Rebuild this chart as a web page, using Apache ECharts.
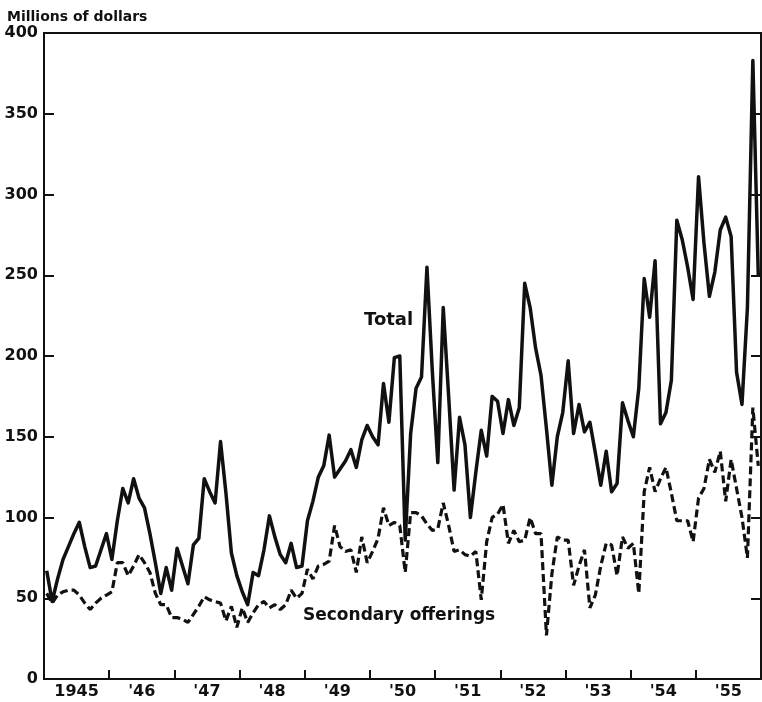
<!DOCTYPE html>
<html>
<head>
<meta charset="utf-8">
<script src="https://cdn.jsdelivr.net/npm/echarts@6/dist/echarts.min.js"></script>
<style>
  html, body { margin: 0; padding: 0; background: #fff; }
  #chart { width: 762px; height: 702px; }
</style>
</head>
<body>
<div id="chart"></div>
<script>
// year labels, centred under each year
var yearLabels = ['1945', "'46", "'47", "'48", "'49", "'50", "'51", "'52", "'53", "'54", "'55"];

// y tick values
var yTicks = [0, 50, 100, 150, 200, 250, 300, 350, 400];

// monthly values, Jan 1945 .. Dec 1955, millions of dollars
var totalValues = [
  67, 48, 62, 74, 82, 90, 97, 82, 69, 70, 80, 90,
  74, 98, 118, 109, 124, 112, 106, 90, 72, 53, 69, 55,
  81, 70, 59, 83, 87, 124, 116, 109, 147, 115, 78, 64,
  54, 46, 66, 64, 80, 101, 88, 77, 72, 84, 69, 70,
  98, 110, 125, 132, 151, 125, 130, 135, 142, 131, 148, 157,
  150, 145, 183, 159, 199, 200, 86, 152, 180, 187, 255, 190,
  134, 230, 175, 117, 162, 145, 100, 128, 154, 138, 175, 172,
  152, 173, 157, 168, 245, 230, 205, 188, 155, 120, 150, 165,
  197, 152, 170, 153, 159, 140, 120, 141, 116, 121, 171, 160,
  150, 180, 248, 224, 259, 158, 165, 185, 284, 272, 255, 235,
  311, 270, 237, 252, 278, 286, 274, 190, 170, 230, 383, 250
];

var secondaryValues = [
  53, 47, 52, 54, 55, 55, 52, 47, 43, 47, 50, 52,
  54, 72, 72, 64, 70, 77, 72, 66, 53, 46, 46, 38,
  38, 37, 35, 40, 45, 51, 49, 48, 47, 36, 45, 32,
  44, 35, 41, 46, 48, 44, 46, 43, 46, 55, 50, 53,
  68, 62, 70, 71, 73, 95, 82, 79, 80, 66, 88, 72,
  79, 87, 106, 95, 97, 95, 66, 103, 103, 101, 96, 92,
  93, 109, 95, 79, 80, 77, 76, 79, 49, 85, 100, 102,
  108, 84, 92, 85, 86, 100, 90, 90, 27, 65, 88, 86,
  86, 58, 70, 80, 44, 52, 70, 84, 83, 64, 88, 81,
  84, 53, 116, 131, 116, 124, 131, 115, 98, 98, 98, 85,
  112, 118, 136, 128, 141, 110, 136, 118, 100, 75, 168, 132
];

// month i sits in the middle of its month slot
function toPoints(values) {
  return values.map(function (v, i) { return [i + 0.5, v]; });
}

var font = 'DejaVu Sans';
var ink = '#111';

var chart = echarts.init(document.getElementById('chart'));
var option = {
  backgroundColor: '#fff',
  animation: false,
  title: {
    text: 'Millions of dollars',
    left: 2,
    top: 5,
    textStyle: { fontFamily: font, fontSize: 14, fontWeight: 'bold', color: ink }
  },
  grid: {
    left: 44, right: 1, top: 33, bottom: 23,
    show: true, borderColor: ink, borderWidth: 2, backgroundColor: '#fff'
  },
  xAxis: [
    {
      type: 'value', min: 0, max: yearLabels.length * 12, interval: 12,
      axisLine: { show: true, lineStyle: { color: ink, width: 2 } },
      axisTick: { show: true, inside: true, length: 9, lineStyle: { color: ink, width: 2 } },
      axisLabel: { show: false },
      splitLine: { show: false }
    },
    {
      type: 'category', data: yearLabels, position: 'bottom', boundaryGap: true,
      axisLine: { show: false }, axisTick: { show: false },
      axisLabel: { fontFamily: font, fontSize: 16, fontWeight: 'bold', color: ink, margin: 5 },
      splitLine: { show: false }
    }
  ],
  yAxis: [
    {
      type: 'value', min: yTicks[0], max: yTicks[yTicks.length - 1], interval: 50,
      axisLine: { show: true, lineStyle: { color: ink, width: 2 } },
      axisTick: { show: true, inside: true, length: 10, lineStyle: { color: ink, width: 2 } },
      axisLabel: { fontFamily: font, fontSize: 16, fontWeight: 'bold', color: ink, margin: 6 },
      splitLine: { show: false }
    },
    {
      type: 'value', position: 'right', min: yTicks[0], max: yTicks[yTicks.length - 1], interval: 50,
      axisLine: { show: true, lineStyle: { color: ink, width: 2 } },
      axisTick: { show: true, inside: true, length: 10, lineStyle: { color: ink, width: 2 } },
      axisLabel: { show: false },
      splitLine: { show: false }
    }
  ],
  series: [
    {
      name: 'Total', type: 'line', xAxisIndex: 0, yAxisIndex: 0,
      data: toPoints(totalValues), showSymbol: false, smooth: false,
      lineStyle: { color: ink, width: 3.5, join: 'round' }
    },
    {
      name: 'Secondary offerings', type: 'line', xAxisIndex: 0, yAxisIndex: 0,
      data: toPoints(secondaryValues), showSymbol: false, smooth: false,
      lineStyle: { color: ink, width: 3.2, type: [8, 4] }
    }
  ],
  graphic: [
    {
      type: 'text', left: 364, top: 311,
      style: { text: 'Total', font: 'bold 18px "DejaVu Sans"', fill: ink }
    },
    {
      type: 'text', left: 303, top: 607,
      style: { text: 'Secondary offerings', font: 'bold 17px "DejaVu Sans"', fill: ink }
    }
  ]
};
chart.setOption(option);
</script>
</body>
</html>
